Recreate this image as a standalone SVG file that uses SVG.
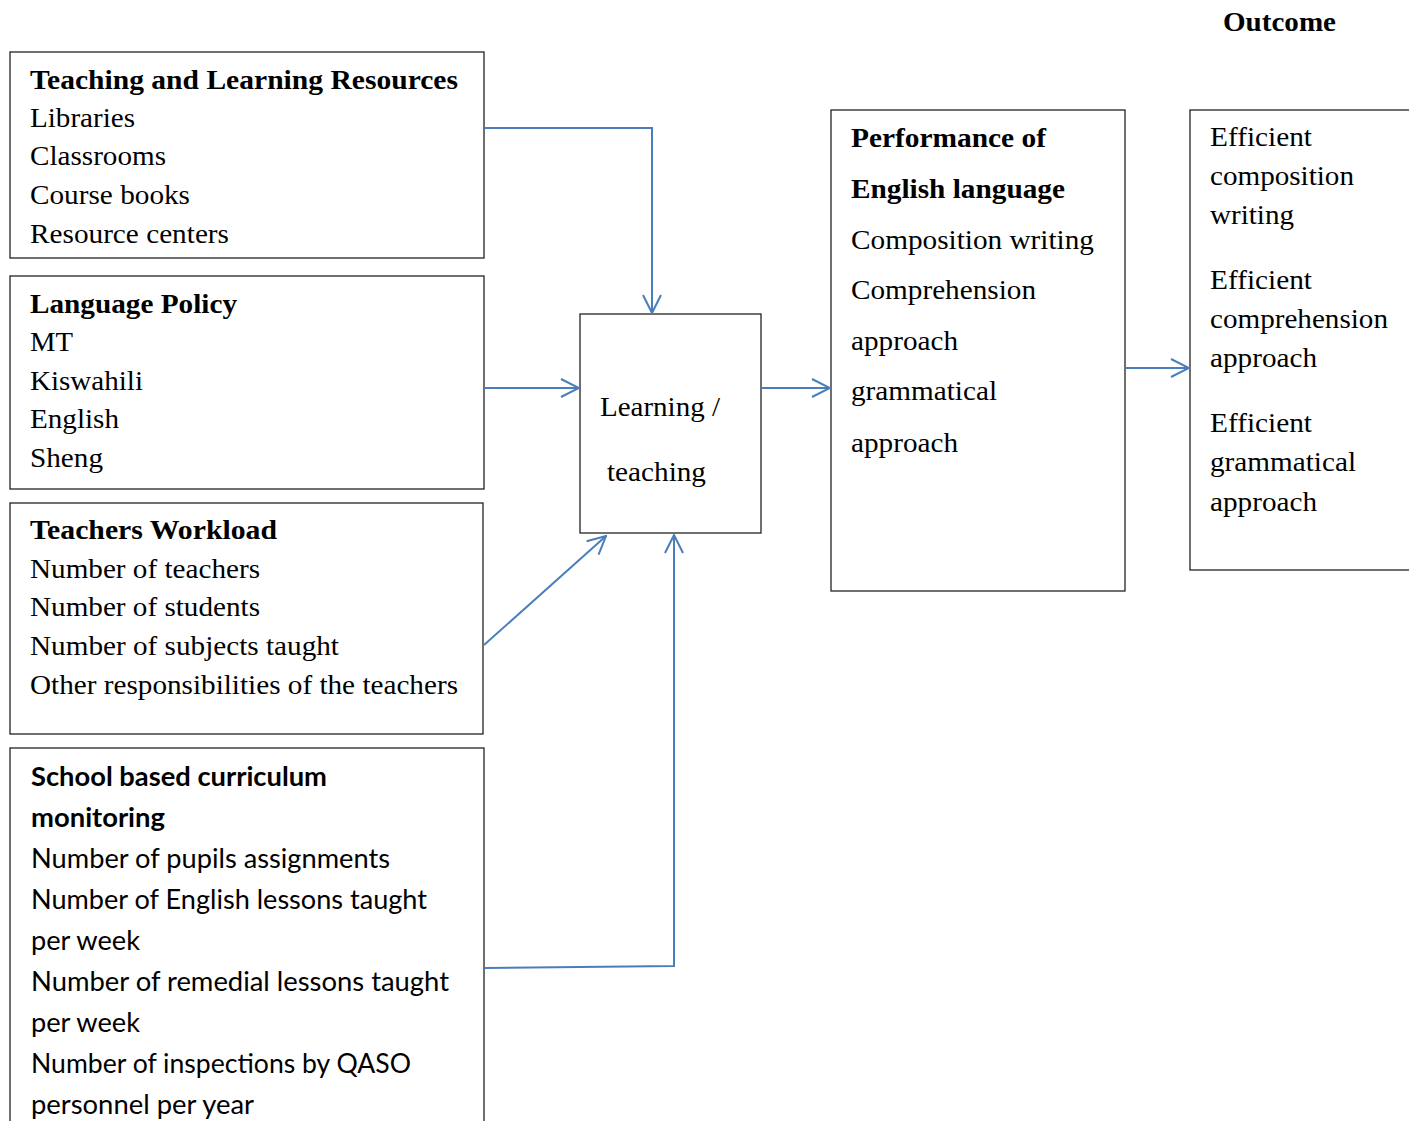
<svg xmlns="http://www.w3.org/2000/svg" width="1409" height="1121" viewBox="0 0 1409 1121">
<defs>
<marker id="arr" viewBox="0 0 20 20" refX="19" refY="10" markerWidth="20" markerHeight="20" markerUnits="userSpaceOnUse" orient="auto">
<path d="M1,1 L19,10 L1,19" fill="none" stroke="#4a7ebb" stroke-width="2"/>
</marker>
<style>
.box{fill:#fff;stroke:#222;stroke-width:1.3}
.t{font-family:"Liberation Serif","Times New Roman",serif;font-size:27px;fill:#000}
.b{font-weight:bold}
.c{font-family:Lato,"Open Sans",sans-serif;font-size:26px;fill:#000}
.con{fill:none;stroke:#4a7ebb;stroke-width:2}
</style>
</defs>
<rect width="1409" height="1121" fill="#fff"/>
<text class="t b" x="1223" y="31" textLength="113" lengthAdjust="spacingAndGlyphs">Outcome</text>

<g id="resources">
<rect class="box" x="10" y="52" width="474" height="206"/>
<text class="t b" x="30" y="89" textLength="428" lengthAdjust="spacingAndGlyphs">Teaching and Learning Resources</text>
<text class="t" x="30" y="127" textLength="105" lengthAdjust="spacingAndGlyphs">Libraries</text>
<text class="t" x="30" y="165" textLength="136" lengthAdjust="spacingAndGlyphs">Classrooms</text>
<text class="t" x="30" y="204" textLength="160" lengthAdjust="spacingAndGlyphs">Course books</text>
<text class="t" x="30" y="243" textLength="199" lengthAdjust="spacingAndGlyphs">Resource centers</text>
</g>

<g id="policy">
<rect class="box" x="10" y="276" width="474" height="213"/>
<text class="t b" x="30" y="313" textLength="207" lengthAdjust="spacingAndGlyphs">Language Policy</text>
<text class="t" x="30" y="351" textLength="43" lengthAdjust="spacingAndGlyphs">MT</text>
<text class="t" x="30" y="390" textLength="113" lengthAdjust="spacingAndGlyphs">Kiswahili</text>
<text class="t" x="30" y="428" textLength="89" lengthAdjust="spacingAndGlyphs">English</text>
<text class="t" x="30" y="467" textLength="73" lengthAdjust="spacingAndGlyphs">Sheng</text>
</g>

<g id="workload">
<rect class="box" x="10" y="503" width="473" height="231"/>
<text class="t b" x="30" y="539" textLength="247" lengthAdjust="spacingAndGlyphs">Teachers Workload</text>
<text class="t" x="30" y="578" textLength="230" lengthAdjust="spacingAndGlyphs">Number of teachers</text>
<text class="t" x="30" y="616" textLength="230" lengthAdjust="spacingAndGlyphs">Number of students</text>
<text class="t" x="30" y="655" textLength="309" lengthAdjust="spacingAndGlyphs">Number of subjects taught</text>
<text class="t" x="30" y="694" textLength="428" lengthAdjust="spacingAndGlyphs">Other responsibilities of the teachers</text>
</g>

<g id="monitoring">
<rect class="box" x="10" y="748" width="474" height="400"/>
<text class="c b" x="31" y="786" textLength="296" lengthAdjust="spacingAndGlyphs">School based curriculum</text>
<text class="c b" x="31" y="827" textLength="134" lengthAdjust="spacingAndGlyphs">monitoring</text>
<text class="c" x="31" y="868" textLength="359" lengthAdjust="spacingAndGlyphs">Number of pupils assignments</text>
<text class="c" x="31" y="909" textLength="396" lengthAdjust="spacingAndGlyphs">Number of English lessons taught</text>
<text class="c" x="31" y="950" textLength="109" lengthAdjust="spacingAndGlyphs">per week</text>
<text class="c" x="31" y="991" textLength="418" lengthAdjust="spacingAndGlyphs">Number of remedial lessons taught</text>
<text class="c" x="31" y="1032" textLength="109" lengthAdjust="spacingAndGlyphs">per week</text>
<text class="c" x="31" y="1073" textLength="380" lengthAdjust="spacingAndGlyphs">Number of inspections by QASO</text>
<text class="c" x="31" y="1114" textLength="223" lengthAdjust="spacingAndGlyphs">personnel per year</text>
</g>

<g id="learning">
<rect class="box" x="580" y="314" width="181" height="219"/>
<text class="t" x="600" y="416" textLength="120" lengthAdjust="spacingAndGlyphs">Learning /</text>
<text class="t" x="607" y="481" textLength="99" lengthAdjust="spacingAndGlyphs">teaching</text>
</g>

<g id="performance">
<rect class="box" x="831" y="110" width="294" height="481"/>
<text class="t b" x="851" y="147" textLength="195" lengthAdjust="spacingAndGlyphs">Performance of</text>
<text class="t b" x="851" y="198" textLength="214" lengthAdjust="spacingAndGlyphs">English language</text>
<text class="t" x="851" y="249" textLength="243" lengthAdjust="spacingAndGlyphs">Composition writing</text>
<text class="t" x="851" y="299" textLength="185" lengthAdjust="spacingAndGlyphs">Comprehension</text>
<text class="t" x="851" y="350" textLength="107" lengthAdjust="spacingAndGlyphs">approach</text>
<text class="t" x="851" y="400" textLength="146" lengthAdjust="spacingAndGlyphs">grammatical</text>
<text class="t" x="851" y="452" textLength="107" lengthAdjust="spacingAndGlyphs">approach</text>
</g>

<g id="outcome">
<rect class="box" x="1190" y="110" width="240" height="460"/>
<text class="t" x="1210" y="146" textLength="102" lengthAdjust="spacingAndGlyphs">Efficient</text>
<text class="t" x="1210" y="185" textLength="144" lengthAdjust="spacingAndGlyphs">composition</text>
<text class="t" x="1210" y="224" textLength="84" lengthAdjust="spacingAndGlyphs">writing</text>
<text class="t" x="1210" y="289" textLength="102" lengthAdjust="spacingAndGlyphs">Efficient</text>
<text class="t" x="1210" y="328" textLength="178" lengthAdjust="spacingAndGlyphs">comprehension</text>
<text class="t" x="1210" y="367" textLength="107" lengthAdjust="spacingAndGlyphs">approach</text>
<text class="t" x="1210" y="432" textLength="102" lengthAdjust="spacingAndGlyphs">Efficient</text>
<text class="t" x="1210" y="471" textLength="146" lengthAdjust="spacingAndGlyphs">grammatical</text>
<text class="t" x="1210" y="511" textLength="107" lengthAdjust="spacingAndGlyphs">approach</text>
</g>

<g id="connectors">
<polyline class="con" points="484,128 652,128 652,313" marker-end="url(#arr)"/>
<line class="con" x1="484" y1="388" x2="579" y2="388" marker-end="url(#arr)"/>
<line class="con" x1="484" y1="645" x2="606" y2="536" marker-end="url(#arr)"/>
<polyline class="con" points="484,968 674,966 674,535" marker-end="url(#arr)"/>
<line class="con" x1="761" y1="388" x2="830" y2="388" marker-end="url(#arr)"/>
<line class="con" x1="1126" y1="368" x2="1189" y2="368" marker-end="url(#arr)"/>
</g>
</svg>
